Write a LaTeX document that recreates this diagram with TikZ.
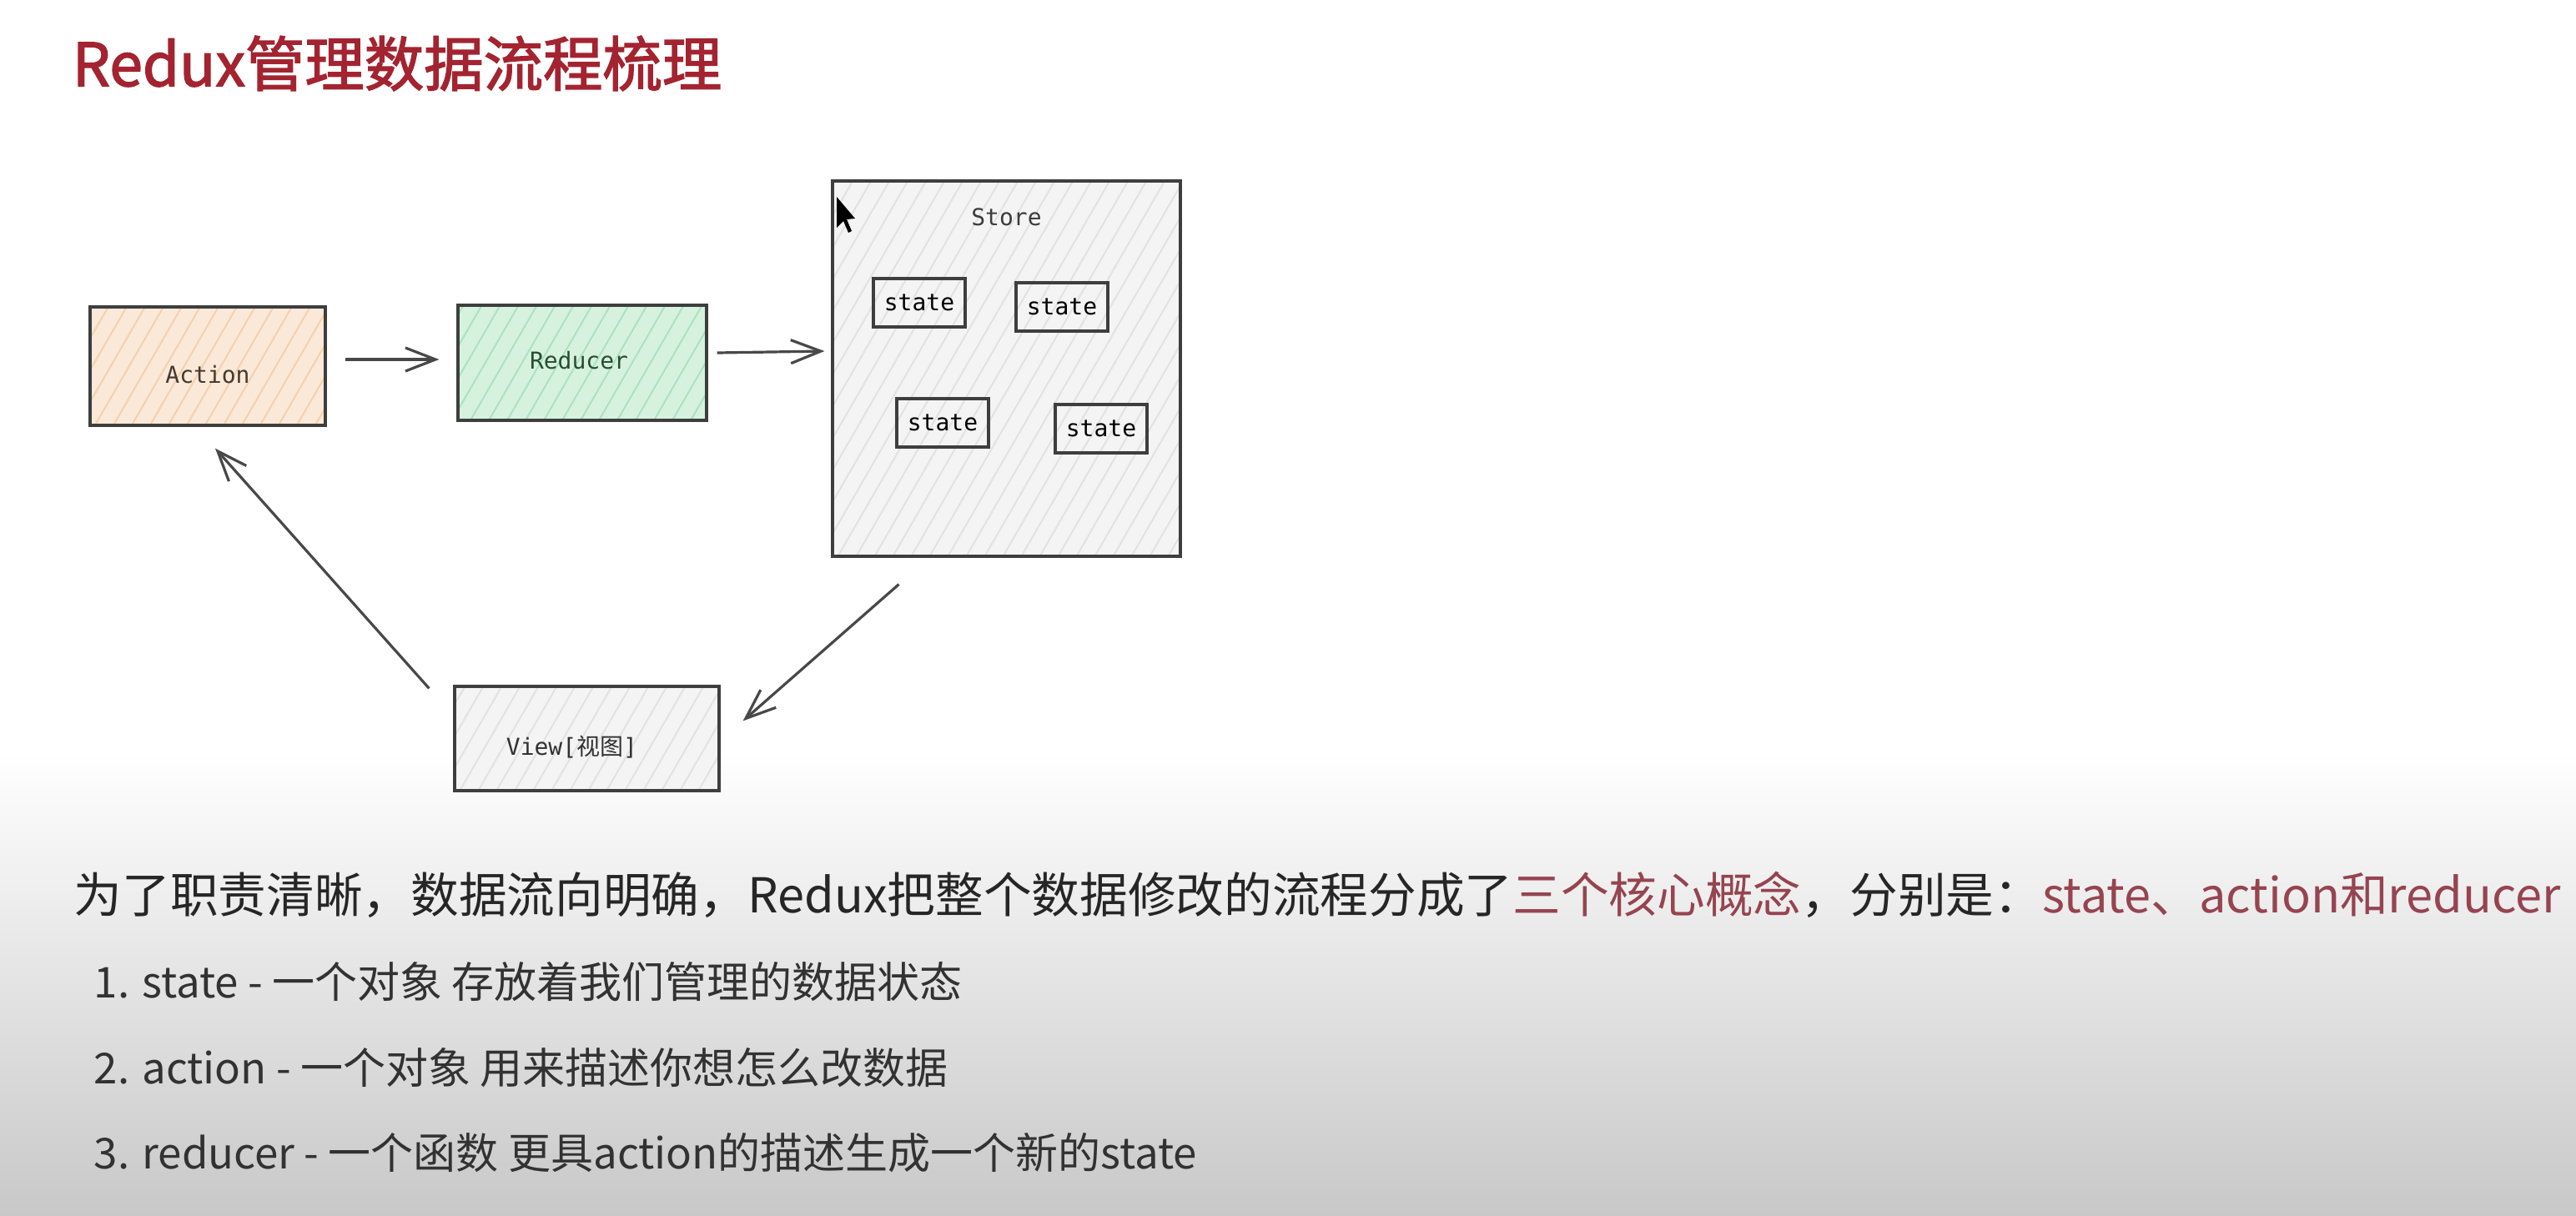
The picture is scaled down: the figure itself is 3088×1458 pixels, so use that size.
\documentclass[tikz,border=0pt]{standalone}
\usepackage{fontspec}
\setmainfont{Noto Sans CJK SC}
\setmonofont{DejaVu Sans Mono}
\newfontfamily\cjk{Noto Sans CJK SC}
\newfontfamily\headfont[FakeBold=2]{Noto Sans CJK SC}
\usetikzlibrary{arrows.meta,calc}

\definecolor{titlered}{RGB}{163,36,48}
\definecolor{hl}{RGB}{150,68,80}
\definecolor{bodytext}{RGB}{38,38,38}
\definecolor{listtext}{RGB}{50,50,50}
\definecolor{boxline}{RGB}{62,62,62}
\definecolor{arrowgray}{RGB}{72,72,72}
\definecolor{actfill}{RGB}{250,233,216}
\definecolor{acthatch}{RGB}{244,208,176}
\definecolor{redfill}{RGB}{214,242,223}
\definecolor{redhatch}{RGB}{172,226,192}
\definecolor{grayfill}{RGB}{244,244,244}
\definecolor{grayhatch}{RGB}{226,226,226}
\definecolor{bottomgray}{RGB}{200,200,200}

\tikzset{
  hatched/.style 2 args={fill=#1, path picture={
      \foreach \k in {-32,...,32}
        \draw[#2, line width=0.5pt]
          ([xshift=\k*5.5pt, yshift=-64pt]path picture bounding box.center) -- ++(60:150pt);
  }},
  box/.style={draw=boxline, line width=0.8pt, inner sep=0pt},
  boxlabel/.style={inner sep=0pt, font=\ttfamily\fontsize{7pt}{8pt}\selectfont},
  statebox/.style={box, boxlabel, minimum width=27.5pt, minimum height=14.5pt, text=black},
  arr/.style={draw=arrowgray, line width=0.8pt,
    -{Straight Barb[length=9pt, width=7pt, line width=0.8pt]}},
  textline/.style={anchor=west, inner sep=0pt},
}

\begin{document}
\begin{tikzpicture}[x=0.25pt, y=-0.25pt]
  % page and the grey fade towards the bottom
  \fill[white] (0,0) rectangle (3088,1458);
  \shade[top color=white, bottom color=bottomgray] (0,900) rectangle (3088,1458);
  \useasboundingbox (0,0) rectangle (3088,1458);

  % heading
  \node[textline, text=titlered, font=\headfont\fontsize{17.85pt}{20pt}\selectfont]
        (title) at (86,76) {Redux管理数据流程梳理};

  % flow diagram boxes
  \node[box, hatched={actfill}{acthatch}, minimum width=70.5pt, minimum height=35.5pt]
        (action) at (249,439) {};
  \node[box, hatched={redfill}{redhatch}, minimum width=74.5pt, minimum height=34.5pt]
        (reducer) at (698,435) {};
  \node[box, hatched={grayfill}{grayhatch}, minimum width=104.25pt, minimum height=112.5pt]
        (store) at (1206.5,442) {};
  \node[box, hatched={grayfill}{grayhatch}, minimum width=79.25pt, minimum height=31.25pt]
        (view) at (703.5,885.5) {};

  % box captions
  \node[boxlabel, text={rgb,255:red,70;green,58;blue,48}] (actionlabel)
        at ($(action.center)+(0,10)$) {Action};
  \node[boxlabel, text={rgb,255:red,40;green,78;blue,52}] (reducerlabel)
        at ($(reducer.center)+(-4,-3)$) {Reducer};
  \node[boxlabel, text={rgb,255:red,60;green,60;blue,60}] (storelabel)
        at ($(store.north)+(0,45)$) {Store};
  \node[boxlabel, text={rgb,255:red,50;green,50;blue,50}] (viewlabel)
        at ($(view.center)+(-18,10)$) {View[{\cjk 视图}]};

  % the pieces of state kept in the store
  \node[statebox] (s1) at (1102,363) {state};
  \node[statebox] (s2) at (1273,368) {state};
  \node[statebox] (s3) at (1130,507) {state};
  \node[statebox] (s4) at (1320,514) {state};

  % connectors
  \draw[arr] ($(action.east)+(22,-8)$) -- ($(reducer.west)+(-21,-4)$);
  \draw[arr] ($(reducer.east)+(11,-12)$) -- ($(store.west)+(-8,-21)$);
  \draw[arr] ($(store.south)+(-129,32)$) -- ($(view.north east)+(27,43)$);
  \draw[arr] ($(view.north west)+(-29,4)$) -- ($(action.south)+(9,26)$);

  % mouse pointer resting on the store box
  \fill[black] (1003,236) -- (1003,273) -- (1011,265) -- (1017,279) -- (1021,277)
        -- (1015,263) -- (1025,262) -- cycle;

  % explanation
  \node[textline, text=bodytext, font=\fontsize{14.42pt}{18pt}\selectfont]
        (intro) at (88,1073)
        {为了职责清晰，数据流向明确，Redux把整个数据修改的流程分成了\textcolor{hl}{三个核心概念}，分别是：\textcolor{hl}{state、action和reducer}};
  \node[textline, text=listtext, font=\fontsize{12.75pt}{16pt}\selectfont]
        (item1) at (112,1177) {1. state - 一个对象 存放着我们管理的数据状态};
  \node[textline, text=listtext, font=\fontsize{12.75pt}{16pt}\selectfont]
        (item2) at (112,1280) {2. action - 一个对象 用来描述你想怎么改数据};
  \node[textline, text=listtext, font=\fontsize{12.75pt}{16pt}\selectfont]
        (item3) at (112,1382) {3. reducer - 一个函数 更具action的描述生成一个新的state};
\end{tikzpicture}
\end{document}
